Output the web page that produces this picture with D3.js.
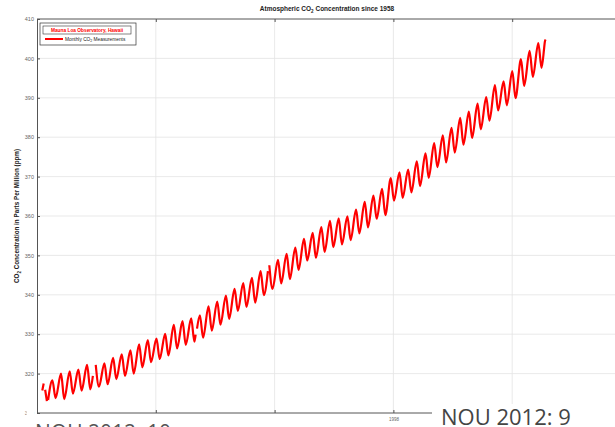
<!DOCTYPE html>
<html>
<head>
<meta charset="utf-8">
<script src="https://cdn.jsdelivr.net/npm/d3@7"></script>
<style>
  body { margin: 0; background: #fff; }
  svg { display: block; }
</style>
</head>
<body>
<svg id="chart" width="615" height="427"></svg>
<script>
// years with a full seasonal cycle, May highs and Sept/Oct lows (ppm)
const YEARS = d3.range(1958, 2016);
const MAY_PEAKS = [
  317.5, 318.3, 320.0, 320.6, 321.0, 322.2, 322.2, 322.6, 324.0, 324.9,
  325.9, 327.4, 328.5, 328.9, 330.1, 332.4, 333.3, 334.0, 334.8, 337.1,
  338.3, 339.8, 341.5, 343.0, 344.3, 346.0, 347.5, 348.9, 350.4, 352.0,
  354.2, 355.7, 357.2, 358.8, 359.4, 359.9, 361.6, 363.6, 365.2, 366.9,
  369.6, 371.1, 371.8, 373.9, 375.9, 378.5, 380.5, 382.4, 384.9, 386.5,
  388.5, 390.2, 393.2, 394.2, 396.8, 399.8, 401.9, 403.9
];
const AUTUMN_LOWS = [
  313.0, 313.8, 313.5, 314.9, 315.7, 316.0, 316.7, 317.3, 318.6, 319.4,
  320.0, 321.6, 322.9, 323.7, 324.6, 326.4, 327.3, 328.1, 329.1, 330.9,
  332.4, 333.9, 335.9, 336.9, 338.0, 339.9, 341.5, 342.9, 344.0, 346.3,
  348.7, 349.4, 350.9, 352.1, 352.8, 353.9, 355.6, 357.1, 359.3, 360.2,
  363.9, 364.6, 366.0, 367.6, 369.7, 372.4, 373.6, 376.1, 378.1, 379.8,
  382.0, 384.2, 386.8, 388.1, 389.9, 393.0, 395.3, 397.6
];
// odd months around the start, the gaps and the end of the record
const EXTRA_DATES = [1958.21, 1958.54, 1958.88, 1964.04, 1975.88, 1976.04, 1984.21, 2016.04, 2016.12, 2016.21];
const EXTRA_PPM   = [315.7,   315.9,   313.3,   319.4,   329.9,   331.4,   346.0,   402.6,   404.2,   404.8];
// missing months in the record
const GAP_DATES = [1958.46, 1958.79, 1964.20, 1975.96, 1984.29];

// MATLAB datenum ticks 715000 ... 740000; only the 1998 label is left visible
const X_DOMAIN = [1957.60, 2026.05];
const X_TICKS = [1971.29, 1984.98, 1998.67, 2012.36];
const X_TICK_LABELS = ["", "", "1998", ""];
const Y_TICKS = d3.range(310, 411, 10);

const FONT = "'Liberation Sans', Arial, sans-serif";
const AXIS = "#555";
const GRID = "#e3e3e3";
const RED = "#f00";

const svg = d3.select("#chart");

const x = d3.scaleLinear().domain(X_DOMAIN).range([37, 631]);
const y = d3.scaleLinear().domain([310, 410]).range([413, 19]);

let points = [];
YEARS.forEach((yr, i) => {
  points.push({ t: yr + 0.37, v: MAY_PEAKS[i] });
  points.push({ t: yr + 0.74, v: AUTUMN_LOWS[i] });
});
EXTRA_DATES.forEach((t, i) => points.push({ t: t, v: EXTRA_PPM[i] }));
GAP_DATES.forEach(t => points.push({ t: t, v: null }));
points.sort((a, b) => a.t - b.t);

// grid
svg.append("g").selectAll("line")
    .data(X_TICKS)
  .enter().append("line")
    .attr("x1", d => x(d)).attr("x2", d => x(d))
    .attr("y1", y(410)).attr("y2", y(310))
    .attr("stroke", GRID).attr("stroke-width", 0.8);

svg.append("g").selectAll("line")
    .data(Y_TICKS.slice(1, -1))
  .enter().append("line")
    .attr("x1", x.range()[0]).attr("x2", 615)
    .attr("y1", d => y(d)).attr("y2", d => y(d))
    .attr("stroke", GRID).attr("stroke-width", 0.8);

// axes
const leftAxis = svg.append("g")
    .attr("transform", `translate(${x.range()[0]},0)`)
    .call(d3.axisLeft(y).tickValues(Y_TICKS).tickSize(-3).tickPadding(3).tickFormat(d3.format("d")));
leftAxis.select(".domain").attr("stroke", AXIS);
leftAxis.selectAll(".tick line").attr("stroke", AXIS);
leftAxis.selectAll("text").attr("fill", "#666").attr("font-size", 5.5).attr("font-family", FONT);

const topAxis = svg.append("g")
    .attr("transform", `translate(0,${y(410)})`)
    .call(d3.axisTop(x).tickValues(X_TICKS).tickSize(-3).tickFormat(""));
topAxis.select(".domain").attr("stroke", AXIS).attr("d", `M${x.range()[0]},0H615`);
topAxis.selectAll(".tick line").attr("stroke", AXIS);

const bottomAxis = svg.append("g")
    .attr("transform", `translate(0,${y(310)})`)
    .call(d3.axisBottom(x).tickValues(X_TICKS).tickSize(-3).tickPadding(5)
      .tickFormat((d, i) => X_TICK_LABELS[i]));
bottomAxis.select(".domain").attr("stroke", AXIS).attr("d", `M${x.range()[0]},0H615`);
bottomAxis.selectAll(".tick line").attr("stroke", AXIS);
bottomAxis.selectAll("text").attr("fill", "#666").attr("font-size", 4.5).attr("font-family", FONT);

// CO2 curve
const line = d3.line()
    .defined(d => d.v != null)
    .x(d => x(d.t))
    .y(d => y(d.v))
    .curve(d3.curveMonotoneX);

svg.append("path")
    .datum(points)
    .attr("d", line)
    .attr("fill", "none")
    .attr("stroke", RED)
    .attr("stroke-width", 2.2)
    .attr("stroke-linejoin", "round");

// title
const title = svg.append("text")
    .attr("x", 327).attr("y", 11)
    .attr("text-anchor", "middle")
    .attr("font-family", FONT).attr("font-size", 6.5).attr("font-weight", "bold")
    .attr("fill", "#222");
title.append("tspan").text("Atmospheric CO");
title.append("tspan").attr("font-size", 4.5).attr("dy", 1.5).text("2");
title.append("tspan").attr("dy", -1.5).text(" Concentration since 1958");

// y label
const ylab = svg.append("text")
    .attr("transform", "translate(19,216) rotate(-90)")
    .attr("text-anchor", "middle")
    .attr("font-family", FONT).attr("font-size", 6.3).attr("font-weight", "bold")
    .attr("fill", "#222");
ylab.append("tspan").text("CO");
ylab.append("tspan").attr("font-size", 4.5).attr("dy", 1.5).text("2");
ylab.append("tspan").attr("dy", -1.5).text(" Concentration in Parts Per Million (ppm)");

// legend
const lg = svg.append("g");
lg.append("rect").attr("x", 40).attr("y", 23).attr("width", 96).attr("height", 22)
    .attr("fill", "#fff").attr("stroke", "#333").attr("stroke-width", 0.7);
lg.append("rect").attr("x", 43).attr("y", 26).attr("width", 88).attr("height", 8)
    .attr("fill", "#fff").attr("stroke", "#333").attr("stroke-width", 0.6);
lg.append("text").attr("x", 87).attr("y", 32)
    .attr("text-anchor", "middle")
    .attr("font-family", FONT).attr("font-size", 4.8).attr("font-weight", "bold")
    .attr("fill", RED).text("Mauna Loa Observatory, Hawaii");
lg.append("line").attr("x1", 45).attr("x2", 63).attr("y1", 39).attr("y2", 39)
    .attr("stroke", RED).attr("stroke-width", 2);
const lgText = lg.append("text").attr("x", 65).attr("y", 40.5)
    .attr("font-family", FONT).attr("font-size", 4.8).attr("fill", "#222");
lgText.append("tspan").text("Monthly CO");
lgText.append("tspan").attr("font-size", 3.5).attr("dy", 1).text("2");
lgText.append("tspan").attr("dy", -1).text(" Measurements");

// slide overlays that cover the bottom of the figure
svg.append("rect").attr("x", 26.5).attr("y", 409).attr("width", 8).attr("height", 18).attr("fill", "#fff");
svg.append("rect").attr("x", 0).attr("y", 416).attr("width", 354).attr("height", 11).attr("fill", "#fff");
svg.append("rect").attr("x", 432).attr("y", 404).attr("width", 183).attr("height", 23).attr("fill", "#fff");

svg.append("text").attr("x", 441).attr("y", 425)
    .attr("font-family", "'Open Sans', sans-serif").attr("font-size", 22)
    .attr("fill", "#444").text("NOU 2012: 9");
svg.append("text").attr("x", 35).attr("y", 439.5)
    .attr("font-family", "'Open Sans', sans-serif").attr("font-size", 21)
    .attr("fill", "#555").text("NOU 2012: 10");
</script>
</body>
</html>
